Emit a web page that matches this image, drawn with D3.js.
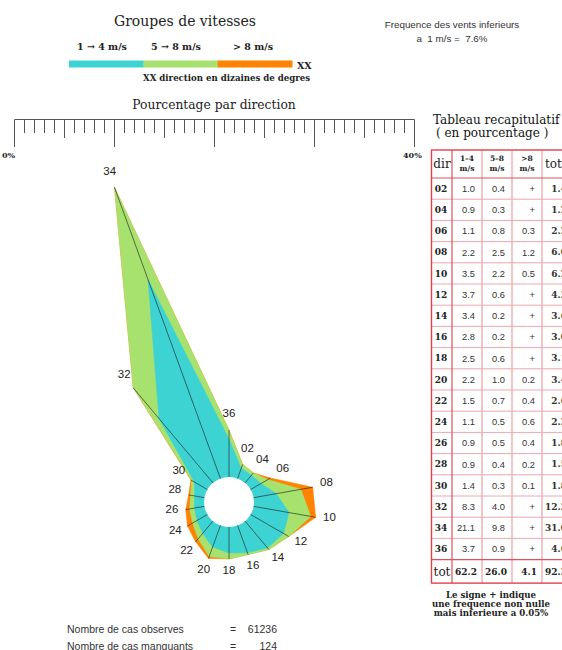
<!DOCTYPE html>
<html><head><meta charset="utf-8">
<script src="https://cdn.jsdelivr.net/npm/d3@7"></script>
<style>
body{margin:0;background:#fff;}
svg{display:block;}
text{white-space:pre;}
</style></head>
<body>
<script>
// ---- data ----
const dirs = ["02","04","06","08","10","12","14","16","18","20","22","24","26","28","30","32","34","36"];
const v14  = [1.0,0.9,1.1,2.2,3.5,3.7,3.4,2.8,2.5,2.2,1.5,1.1,0.9,0.9,1.4,8.3,21.1,3.7];
const v58  = [0.4,0.3,0.8,2.5,2.2,0.6,0.2,0.2,0.6,1.0,0.7,0.5,0.5,0.4,0.3,4.0,9.8,0.9];
const v8   = ["+","+","0.3","1.2","0.5","+","+","+","+","0.2","0.4","0.6","0.4","0.2","0.1","+","+","+"];
const vtot = ["1.4","1.2","2.2","6.0","6.2","4.3","3.6","3.0","3.1","3.4","2.6","2.2","1.8","1.5","1.8","12.3","31.0","4.6"];
const colTotals = ["62.2","26.0","4.1","92.3"];
const groupLabels = ["1 \u2192 4 m/s","5 \u2192 8 m/s","> 8 m/s"];
const headerTop = ["1\u20134","5\u20138",">8"];
const scaleTicks = d3.range(0,41,1);
const calmText = ["Frequence des vents inferieurs","a  1 m/s =  7.6%"];
const countLabels = ["Nombre de cas observes","Nombre de cas manquants"];
const countValues = ["61236","124"];

const colors = ["#3ed3d3","#a8e26e","#ff8200"];
const serif = "'DejaVu Serif', serif";
const sans = "'Liberation Sans', Arial, sans-serif";

const W=562,H=650;
const svg = d3.select("body").append("svg").attr("width",W).attr("height",H);

// ---- legend ----
svg.append("text").attr("x",185).attr("y",26).attr("text-anchor","middle")
  .attr("font-family",serif).attr("font-size",14).attr("fill","#222").text("Groupes de vitesses");
const lg = d3.scaleBand().domain(groupLabels).range([69,292]);
svg.selectAll(".lgl").data(groupLabels).join("text")
  .attr("x",(d,i)=>[102,176,253][i]).attr("y",50).attr("text-anchor","middle")
  .attr("font-family",serif).attr("font-size",9.5).attr("font-weight","bold").attr("fill","#222").text(d=>d);
svg.selectAll(".lgr").data(groupLabels).join("rect")
  .attr("x",d=>lg(d)).attr("y",60.5).attr("width",lg.bandwidth()+0.5).attr("height",7)
  .attr("fill",(d,i)=>colors[i]);
svg.append("text").attr("x",297).attr("y",68.5).attr("font-family",serif).attr("font-size",9.5)
  .attr("font-weight","bold").attr("fill","#222").text("XX");
svg.append("text").attr("x",143).attr("y",81).attr("font-family",serif).attr("font-size",8.6)
  .attr("font-weight","bold").attr("fill","#222").text("XX direction en dizaines de degres");
svg.selectAll(".calm").data(calmText).join("text")
  .attr("x",452).attr("y",(d,i)=>28+i*14).attr("text-anchor","middle")
  .attr("font-family",sans).attr("font-size",9.8).attr("fill","#333").text(d=>d);

// ---- percentage scale ----
svg.append("text").attr("x",214).attr("y",109).attr("text-anchor","middle")
  .attr("font-family",serif).attr("font-size",12.3).attr("fill","#222").text("Pourcentage par direction");
const xs = d3.scaleLinear().domain([0,40]).range([14.5,414.5]);
svg.append("line").attr("x1",xs(0)).attr("x2",xs(40)).attr("y1",119.5).attr("y2",119.5)
  .attr("stroke","#555").attr("stroke-width",1);
svg.selectAll(".tk").data(scaleTicks).join("line")
  .attr("x1",d=>xs(d)).attr("x2",d=>xs(d)).attr("y1",119.5)
  .attr("y2",d=> d%10===0 ? 147 : (d%5===0 ? 138 : 133))
  .attr("stroke","#555").attr("stroke-width",1);
svg.append("text").attr("x",2).attr("y",158).attr("font-family",serif).attr("font-size",8)
  .attr("font-weight","bold").attr("fill","#222").text("0%");
svg.append("text").attr("x",403).attr("y",158).attr("font-family",serif).attr("font-size",8)
  .attr("font-weight","bold").attr("fill","#222").text("40%");

// ---- wind rose ----
const cx=229, cy=502, r0=26, k=10;
const rs = d3.scaleLinear().domain([0,40]).range([r0, r0+40*k]);
const parse = s => s==="+" ? 0 : +s;
const rows = dirs.map((d,i)=>{
  const a = v14[i], b = v58[i], c = parse(v8[i]);
  return {dir:d, ang:(+d)*10*Math.PI/180, c1:a, c2:a+b, c3:a+b+c};
});
const g = svg.append("g").attr("transform",`translate(${cx},${cy})`);
["c3","c2","c1"].forEach((key,j)=>{
  const lr = d3.lineRadial().angle(d=>d.ang).radius(d=>rs(d[key])).curve(d3.curveLinearClosed);
  g.append("path").attr("d",lr(rows)).attr("fill",colors[2-j]).attr("stroke",colors[2-j]).attr("stroke-width",0.5);
});
g.append("circle").attr("r",25).attr("fill","#fff");
g.selectAll(".ray").data(rows).join("line")
  .attr("x1",d=>25*Math.sin(d.ang)).attr("y1",d=>-25*Math.cos(d.ang))
  .attr("x2",d=>rs(d.c3)*Math.sin(d.ang)).attr("y2",d=>-rs(d.c3)*Math.cos(d.ang))
  .attr("stroke","#1a1a1a").attr("stroke-width",0.6);
g.selectAll(".dl").data(rows).join("text")
  .attr("x",d=>(rs(d.c3)+14)*Math.sin(d.ang))
  .attr("y",d=>-(rs(d.c3)+14)*Math.cos(d.ang)-3)
  .attr("text-anchor","middle").attr("dominant-baseline","central")
  .attr("font-family",sans).attr("font-size",11.5).attr("fill","#222").text(d=>d.dir);

// ---- table ----
svg.append("text").attr("x",433).attr("y",124).attr("font-family",serif).attr("font-size",12)
  .attr("fill","#111").text("Tableau recapitulatif");
svg.append("text").attr("x",436).attr("y",137).attr("font-family",serif).attr("font-size",12)
  .attr("fill","#111").text("( en pourcentage )");

const colEdges = [431.5,452,482,512,542,576];
const tTop=150, hdrB=178, rowH=21.2;
const yRow = d3.scaleLinear().domain([0,dirs.length]).range([hdrB, hdrB+rowH*dirs.length]);
const tBottom = yRow(dirs.length)+23.5;
const tbl = svg.append("g");
tbl.selectAll(".hl").data(d3.range(1,dirs.length)).join("line")
  .attr("x1",colEdges[0]).attr("x2",colEdges[5]).attr("y1",d=>yRow(d)).attr("y2",d=>yRow(d))
  .attr("stroke","#f0a6ae").attr("stroke-width",1);
tbl.selectAll(".vl").data(colEdges.slice(2,5)).join("line")
  .attr("x1",d=>d).attr("x2",d=>d).attr("y1",tTop).attr("y2",tBottom)
  .attr("stroke","#f0a6ae").attr("stroke-width",1.3);
tbl.append("line").attr("x1",colEdges[1]).attr("x2",colEdges[1]).attr("y1",tTop).attr("y2",tBottom)
  .attr("stroke","#e0505c").attr("stroke-width",1.2);
[hdrB, yRow(dirs.length)].forEach(y=>tbl.append("line").attr("x1",colEdges[0]).attr("x2",colEdges[5])
  .attr("y1",y).attr("y2",y).attr("stroke","#e0505c").attr("stroke-width",1.2));
tbl.append("rect").attr("x",colEdges[0]).attr("y",tTop).attr("width",colEdges[5]-colEdges[0])
  .attr("height",tBottom-tTop).attr("fill","none").attr("stroke","#e0404c").attr("stroke-width",1.4);

tbl.append("text").attr("x",442).attr("y",168).attr("text-anchor","middle").attr("font-family",serif)
  .attr("font-size",12).attr("fill","#222").text("dir");
headerTop.forEach((h,i)=>{
  const xm=(colEdges[i+1]+colEdges[i+2])/2;
  tbl.append("text").attr("x",xm).attr("y",161).attr("text-anchor","middle").attr("font-family",serif)
    .attr("font-size",7.5).attr("font-weight","bold").attr("fill","#222").text(h);
  tbl.append("text").attr("x",xm).attr("y",170.5).attr("text-anchor","middle").attr("font-family",serif)
    .attr("font-size",7.5).attr("font-weight","bold").attr("fill","#222").text("m/s");
});
tbl.append("text").attr("x",545).attr("y",168).attr("font-family",serif)
  .attr("font-size",12).attr("fill","#222").text("tot");

const cols = [v14.map(v=>v.toFixed(1)), v58.map(v=>v.toFixed(1)), v8, vtot];
dirs.forEach((d,i)=>{
  const yc = (yRow(i)+yRow(i+1))/2;
  tbl.append("text").attr("x",441).attr("y",yc).attr("dy","0.36em").attr("text-anchor","middle")
    .attr("font-family",serif).attr("font-size",9).attr("font-weight","bold").attr("fill","#222").text(d);
  cols.forEach((c,j)=>{
    tbl.append("text").attr("x",colEdges[j+2]-(j===3?9:7)).attr("y",yc).attr("dy","0.36em").attr("text-anchor","end")
      .attr("font-family", j===3?serif:sans).attr("font-size",j===3?9:9.3)
      .attr("font-weight",j===3?"bold":"normal").attr("fill","#333").text(c[i]);
  });
});
const ytot = (yRow(dirs.length)+tBottom)/2;
tbl.append("text").attr("x",442).attr("y",ytot).attr("dy","0.36em").attr("text-anchor","middle")
  .attr("font-family",serif).attr("font-size",12).attr("fill","#222").text("tot");
colTotals.forEach((t,j)=>{
  tbl.append("text").attr("x",colEdges[j+2]-(j===3?9:5)).attr("y",ytot).attr("dy","0.36em").attr("text-anchor","end")
    .attr("font-family",serif).attr("font-size",9).attr("font-weight","bold").attr("fill","#222").text(t);
});
const notes = ["Le signe + indique","une frequence non nulle","mais inferieure a 0.05%"];
svg.selectAll(".nt").data(notes).join("text")
  .attr("x",491).attr("y",(d,i)=>598+i*9).attr("text-anchor","middle")
  .attr("font-family",serif).attr("font-size",8.6).attr("font-weight","bold").attr("fill","#222").text(d=>d);

// ---- counts ----
countLabels.forEach((t,i)=>{
  const y = 633+i*17;
  svg.append("text").attr("x",67).attr("y",y).attr("font-family",sans).attr("font-size",10.5).attr("fill","#333").text(t);
  svg.append("text").attr("x",230).attr("y",y).attr("font-family",sans).attr("font-size",10.5).attr("fill","#333").text("=");
  svg.append("text").attr("x",277).attr("y",y).attr("text-anchor","end").attr("font-family",sans).attr("font-size",10.5).attr("fill","#333").text(countValues[i]);
});
</script>
</body></html>
